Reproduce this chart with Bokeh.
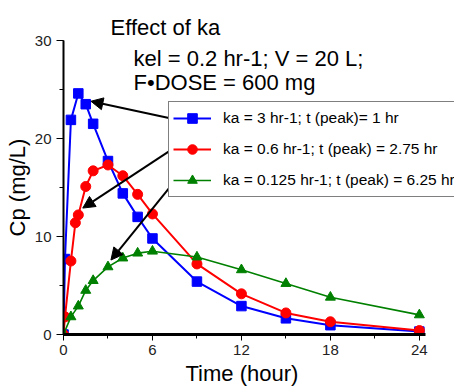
from bokeh.plotting import figure
from bokeh.models import Range1d, SingleIntervalTicker, Arrow, NormalHead, Label, Title
from bokeh.embed import file_html
from bokeh.resources import INLINE

# ---- data ----
t_blue = [0, 0.1, 0.5, 1, 1.5, 2, 3, 4, 5, 6, 9, 12, 15, 18, 24]
cp_blue = [0, 7.7, 21.9, 24.6, 23.5, 21.5, 17.7, 14.4, 12.0, 9.8, 5.4, 2.9, 1.65, 0.95, 0.3]

t_red = [0, 0.1, 0.5, 0.8, 1, 1.5, 2, 3, 4, 5, 6, 9, 12, 15, 18, 24]
cp_red = [0, 1.8, 7.5, 11.4, 12.2, 15.1, 16.7, 17.3, 16.2, 14.3, 12.3, 7.2, 4.15, 2.2, 1.3, 0.4]

t_green = [0, 0.5, 1, 1.5, 2, 3, 4, 5, 6, 9, 12, 15, 18, 24]
cp_green = [0, 1.8, 2.9, 4.5, 5.5, 6.9, 7.8, 8.3, 8.5, 7.9, 6.6, 5.2, 3.8, 2.0]

labels = ["ka = 3 hr-1; t (peak)= 1 hr",
          "ka = 0.6 hr-1; t (peak) = 2.75 hr",
          "ka = 0.125 hr-1; t (peak) = 6.25 hr"]
title_lines = ["Effect of ka", "kel = 0.2 hr-1; V = 20 L;", "F\u2022DOSE = 600 mg"]
x_label = "Time (hour)"
y_label = "Cp (mg/L)"

# arrows: (x_start, y_start, x_end, y_end) in data units
arrows = [(7.42, 22.0, 1.85, 23.8),
          (7.42, 19.0, 1.3, 12.9),
          (7.42, 15.5, 3.2, 7.6)]

FONT = "Liberation Sans"

p = figure(width=454, height=390, x_range=Range1d(0, 26.37), y_range=Range1d(0, 30),
           output_backend="svg", toolbar_location=None,
           min_border_left=63, min_border_right=0, min_border_top=40, min_border_bottom=56)
p.outline_line_color = None
p.grid.visible = False
p.background_fill_color = "white"

# title first line (above the frame)
p.title.text = title_lines[0]
p.title.align = "left"
p.title.offset = 47
p.title.text_font = FONT
p.title.text_font_size = "22px"
p.title.text_font_style = "normal"
p.title.text_color = "black"
p.title.standoff = 1

# series
p.line(t_blue, cp_blue, color="#0000ff", line_width=2, legend_label=labels[0])
p.scatter(t_blue, cp_blue, marker="square", size=9.5, color="#0000ff", legend_label=labels[0])
p.line(t_red, cp_red, color="#ff0000", line_width=2, legend_label=labels[1])
p.scatter(t_red, cp_red, marker="circle", size=10, color="#ff0000", legend_label=labels[1])
p.line(t_green, cp_green, color="#008000", line_width=1.6, legend_label=labels[2])
p.scatter(t_green, cp_green, marker="triangle", size=10, color="#008000", legend_label=labels[2])

# axes
xa = p.xaxis[0]
xa.bounds = (0, 24.4)
xa.ticker = SingleIntervalTicker(interval=6, num_minor_ticks=2)
xa.axis_line_width = 3
xa.axis_line_color = "black"
xa.major_tick_in = 0
xa.major_tick_out = 6
xa.minor_tick_in = 0
xa.minor_tick_out = 4
xa.major_tick_line_color = "black"
xa.minor_tick_line_color = "black"
xa.major_label_text_font = FONT
xa.major_label_text_font_size = "15px"
xa.major_label_text_color = "#222222"
xa.major_label_standoff = 4

# x-axis title placed below the axis, left-aligned under the plotted span
p.add_layout(Title(text=x_label, align="left", offset=122, text_font=FONT,
                   text_font_size="22px", text_font_style="normal",
                   text_color="black", standoff=2), "below")

ya = p.yaxis[0]
ya.ticker = SingleIntervalTicker(interval=10, num_minor_ticks=2)
ya.axis_line_width = 2
ya.axis_line_color = "black"
ya.major_tick_in = 0
ya.major_tick_out = 7
ya.minor_tick_in = 0
ya.minor_tick_out = 4
ya.major_tick_line_color = "black"
ya.minor_tick_line_color = "black"
ya.major_label_text_font = FONT
ya.major_label_text_font_size = "15px"
ya.major_label_text_color = "#222222"
ya.major_label_standoff = 5
ya.axis_label = y_label
ya.axis_label_text_font = FONT
ya.axis_label_text_font_size = "22px"
ya.axis_label_text_font_style = "normal"
ya.axis_label_text_color = "black"
ya.axis_label_standoff = 2

# arrows
for (xs, ys, xe, ye) in arrows:
    p.add_layout(Arrow(end=NormalHead(size=12, fill_color="black", line_color="black"),
                       x_start=xs, y_start=ys, x_end=xe, y_end=ye,
                       line_width=2, line_color="black"))

# remaining title lines (inside the frame)
title_pos = [(4.72, 28.13), (4.72, 25.75)]
for txt, (tx, ty) in zip(title_lines[1:], title_pos):
    p.add_layout(Label(x=tx, y=ty, text=txt, text_font=FONT, text_font_size="22px",
                       text_baseline="alphabetic", text_color="black"))

# legend
lg = p.legend[0]
lg.location = (105, 137)
lg.margin = 0
lg.padding = 4
lg.spacing = 7
lg.glyph_height = 24
lg.glyph_width = 38
lg.label_height = 24
lg.label_width = 240
lg.label_standoff = 12
lg.label_text_font = FONT
lg.label_text_font_size = "15.5px"
lg.label_text_color = "black"
lg.border_line_color = "black"
lg.border_line_width = 1
lg.background_fill_alpha = 1

open("out.html", "w").write(file_html(p, INLINE))
